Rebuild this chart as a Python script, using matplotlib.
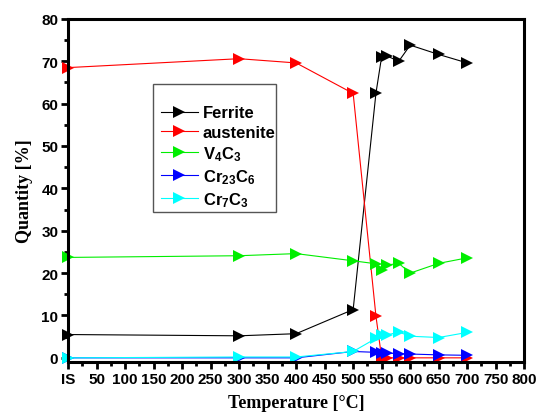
import matplotlib
matplotlib.use('Agg')
import matplotlib.pyplot as plt
from matplotlib.patches import Rectangle

# temperatures (0 = initial state "IS")
temp = [0, 300, 400, 500, 540, 550, 560, 580, 600, 650, 700]

ferrite   = [5.5, 5.2, 5.7, 11.4, 62.5, 71.1, 71.2, 70.0, 73.8, 71.6, 69.6]
austenite = [68.5, 70.6, 69.6, 62.4, 9.8, 0.0, 0.0, 0.0, 0.0, 0.0, 0.0]
v4c3      = [23.7, 24.1, 24.6, 22.9, 22.2, 20.8, 21.9, 22.3, 20.0, 22.3, 23.6]
cr23c6    = [0.0, 0.0, 0.0, 1.5, 1.3, 1.2, 1.1, 1.0, 0.9, 0.7, 0.6]
cr7c3     = [0.0, 0.2, 0.2, 1.5, 4.6, 5.3, 5.4, 6.1, 5.1, 4.8, 6.0]

xticks = list(range(0, 801, 50))
xlabels = ['IS'] + [str(t) for t in xticks[1:]]

series = [
    (ferrite, 'black', 'Ferrite'),
    (austenite, 'red', 'austenite'),
    (v4c3, '#00ee00', r'V$_4$C$_3$'),
    (cr23c6, 'blue', r'Cr$_{23}$C$_6$'),
    (cr7c3, 'cyan', r'Cr$_7$C$_3$'),
]

plt.rcParams['font.family'] = 'Liberation Sans'
plt.rcParams['font.weight'] = 'bold'
plt.rcParams['mathtext.fontset'] = 'custom'
plt.rcParams['mathtext.rm'] = 'Liberation Sans:bold'
plt.rcParams['mathtext.it'] = 'Liberation Sans:bold'

fig = plt.figure(figsize=(5.36, 4.14), dpi=100)
ax = fig.add_axes([0.127, 0.123, 0.851, 0.829])

for vals, col, lab in series:
    ax.plot(temp, vals, color=col, lw=0.8, marker='>', markersize=8.5,
            markeredgewidth=0, label=lab, clip_on=False)

ax.set_xlim(0, 800)
ax.set_ylim(-1, 80)
ax.set_xticks(xticks)
ax.set_xticklabels(xlabels)
ax.set_xticks(range(25, 800, 50), minor=True)
ax.set_yticks(range(0, 81, 10))
ax.set_yticks(range(5, 80, 10), minor=True)
ax.tick_params(which='major', direction='out', length=5, width=2,
               labelsize=11, pad=2)
ax.tick_params(which='minor', direction='out', length=3, width=2)
for lab in ax.get_xticklabels() + ax.get_yticklabels():
    lab.set_fontweight('bold')
for s in ax.spines.values():
    s.set_linewidth(2.2)

ax.set_xlabel('Temperature [°C]', family='Liberation Serif', fontweight='bold',
              fontsize=13, labelpad=6)
ax.set_ylabel('Quantity [%]', family='Liberation Serif', fontweight='bold',
              fontsize=13, labelpad=6)

# legend frame drawn separately (more room on top than on the sides)
ax.add_patch(Rectangle((0.186, 0.437), 0.270, 0.373, transform=ax.transAxes,
                       fill=False, edgecolor='#555555', lw=1.0, zorder=4))
leg = ax.legend(loc='upper left', bbox_to_anchor=(0.204, 0.748), fontsize=12,
                frameon=False, handlelength=2.2, handletextpad=0.3,
                labelspacing=0.26, borderpad=0, borderaxespad=0)
for t in leg.get_texts():
    t.set_fontweight('bold')

fig.savefig('out.png', dpi=100)
